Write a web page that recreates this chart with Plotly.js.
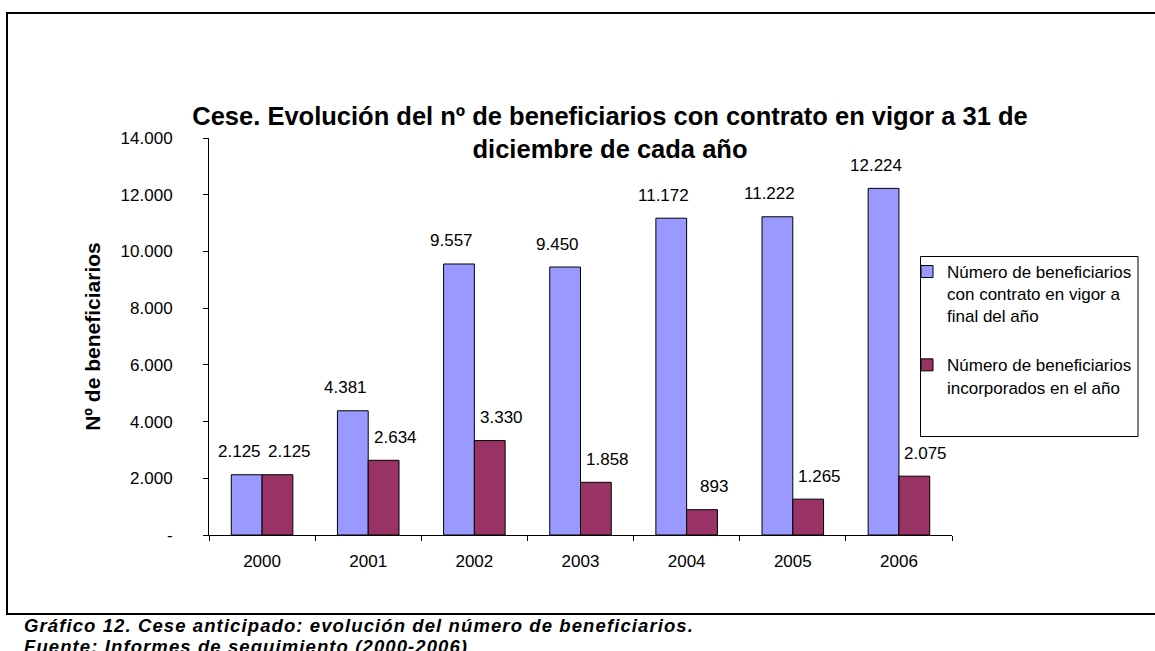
<!DOCTYPE html>
<html>
<head>
<meta charset="utf-8">
<script src="https://cdn.plot.ly/plotly-3.0.1.min.js"></script>
<style>
  html, body { margin: 0; padding: 0; background: #fff; }
  #chart { width: 1155px; height: 651px; }
  .annotation[data-index="14"] text, .annotation[data-index="15"] text { letter-spacing: 1.1px; }
</style>
</head>
<body>
<div id="chart"></div>
<script>
// ---- data ----
const years = ['2000', '2001', '2002', '2003', '2004', '2005', '2006'];
const contratoVigor = [2125, 4381, 9557, 9450, 11172, 11222, 12224];
const incorporados = [2125, 2634, 3330, 1858, 893, 1265, 2075];
const seriesNames = [
  'Número de beneficiarios<br>con contrato en vigor a<br>final del año',
  'Número de beneficiarios<br>incorporados en el año'
];
const yTickVals = [0, 2000, 4000, 6000, 8000, 10000, 12000, 14000];
const yTickText = ['-', '2.000', '4.000', '6.000', '8.000', '10.000', '12.000', '14.000'];
const titleText = 'Cese. Evolución del nº de beneficiarios con contrato en vigor a 31 de<br>diciembre de cada año';
const yTitleText = 'Nº de beneficiarios';
const captionLines = [
  'Gráfico 12. Cese anticipado: evolución del número de beneficiarios.',
  'Fuente: Informes de seguimiento (2000-2006)'
];

// ---- helpers ----
const FONT = 'Liberation Sans, Arial, Helvetica, sans-serif';
const W = 1155, H = 651;
const L = 209, R = 952, T = 138, B = 535;
const px = x => (x - L) / (R - L);
const py = y => (B - y) / (B - T);
const fmt = v => String(v).replace(/\B(?=(\d{3})+(?!\d))/g, '.');

const traces = [
  {
    type: 'bar', x: years, y: contratoVigor, name: seriesNames[0],
    legendgroup: 'a',
    marker: { color: '#9999FF', line: { color: '#000', width: 1 } },
    hoverinfo: 'skip'
  },
  {
    type: 'bar', x: years, y: incorporados, name: seriesNames[1],
    legendgroup: 'b',
    marker: { color: '#993366', line: { color: '#000', width: 1 } },
    hoverinfo: 'skip'
  }
];

const annotations = [];
years.forEach((yr, i) => {
  annotations.push({
    x: i, y: contratoVigor[i], xref: 'x', yref: 'y', text: fmt(contratoVigor[i]),
    showarrow: false, xshift: -23, yshift: 23,
    font: { family: FONT, size: 17, color: '#000' }
  });
});
years.forEach((yr, i) => {
  annotations.push({
    x: i, y: incorporados[i], xref: 'x', yref: 'y', text: fmt(incorporados[i]),
    showarrow: false, xshift: 27, yshift: 23,
    font: { family: FONT, size: 17, color: '#000' }
  });
});
// caption lines (index 14, 15)
annotations.push({
  xref: 'paper', yref: 'paper', x: px(22), y: py(625), xanchor: 'left', yanchor: 'middle', align: 'left',
  text: captionLines[0], showarrow: false,
  font: { family: FONT, size: 18.5, color: '#000', style: 'italic', weight: 'bold' }
});
annotations.push({
  xref: 'paper', yref: 'paper', x: px(22), y: py(646), xanchor: 'left', yanchor: 'middle', align: 'left',
  text: captionLines[1], showarrow: false,
  font: { family: FONT, size: 18.5, color: '#000', style: 'italic', weight: 'bold' }
});

const layout = {
  width: W, height: H,
  margin: { l: L, r: W - R, t: T, b: H - B, pad: 0 },
  paper_bgcolor: '#fff', plot_bgcolor: '#fff',
  font: { family: FONT, size: 17, color: '#000' },
  title: {
    text: titleText,
    font: { family: FONT, size: 25.5, color: '#000', weight: 'bold' },
    xref: 'container', x: 610 / W, xanchor: 'center',
    yref: 'container', y: 1 - 125 / H, yanchor: 'middle'
  },
  barmode: 'group', bargap: 0.42, bargroupgap: 0,
  showlegend: true,
  legend: {
    x: px(907), xanchor: 'left', y: py(254), yanchor: 'top',
    bgcolor: 'rgba(0,0,0,0)', borderwidth: 0,
    font: { family: FONT, size: 17, color: '#000' },
    valign: 'top', tracegroupgap: 24, traceorder: 'grouped'
  },
  xaxis: {
    type: 'category', range: [-0.5, years.length - 0.5], fixedrange: true,
    showline: true, linecolor: '#000', linewidth: 1,
    ticks: 'outside', tickson: 'boundaries', ticklen: 5, tickcolor: '#000',
    showgrid: false, zeroline: false, automargin: false, tickangle: 0,
    tickfont: { family: FONT, size: 17, color: '#000' },
    ticklabelstandoff: 11
  },
  yaxis: {
    range: [0, 14000], tickvals: yTickVals, ticktext: yTickText,
    showline: true, linecolor: '#000', linewidth: 1,
    ticks: 'outside', ticklen: 5, tickcolor: '#000',
    showgrid: false, zeroline: false, automargin: false,
    tickfont: { family: FONT, size: 17, color: '#000' },
    ticklabelstandoff: 27,
    title: { text: yTitleText, font: { family: FONT, size: 21, color: '#000', weight: 'bold' }, standoff: 14 }
  },
  shapes: [
    { type: 'rect', xref: 'paper', yref: 'paper', x0: px(7), x1: px(1170), y0: py(614), y1: py(13),
      line: { color: '#000', width: 2 }, fillcolor: 'rgba(0,0,0,0)', layer: 'above' },
    { type: 'rect', xref: 'paper', yref: 'paper', x0: px(920.5), x1: px(1138), y0: py(436.5), y1: py(256.5),
      line: { color: '#000', width: 1 }, fillcolor: 'rgba(0,0,0,0)', layer: 'above' }
  ],
  annotations: annotations
};

Plotly.newPlot('chart', traces, layout, { displayModeBar: false, staticPlot: true });
</script>
</body>
</html>
